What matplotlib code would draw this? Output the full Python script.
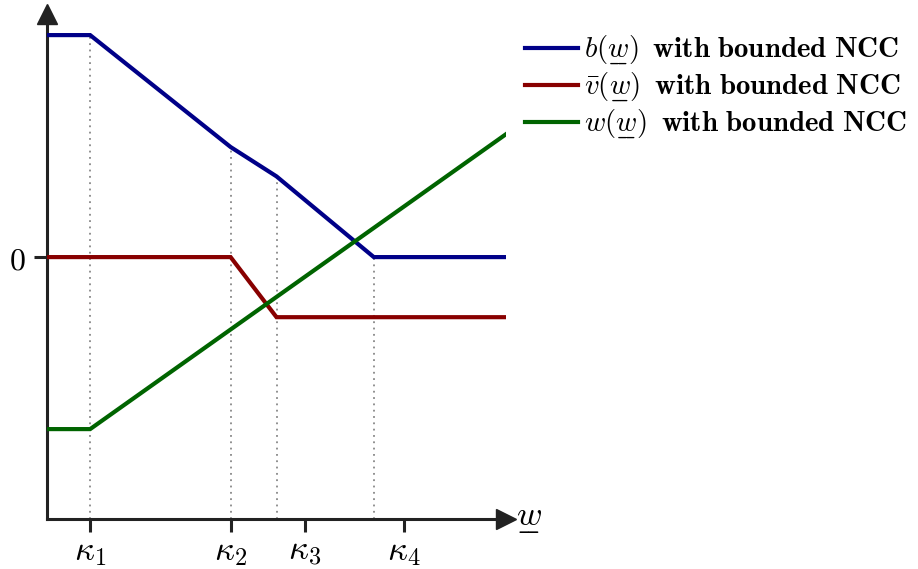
import matplotlib.pyplot as plt
from matplotlib.mathtext import MathTextParser

plt.rcParams['mathtext.fontset'] = 'cm'
plt.rcParams['font.family'] = 'serif'
plt.rcParams['font.serif'] = ['DejaVu Serif']

# kink points on the w axis (x) and values of each curve there
x_pts = [0, 0.94, 4.0, 5.0, 7.12, 10]
b_vals = [4.84, 4.84, 2.40, 1.76, 0.0, 0.0]
v_vals = [0.0, 0.0, 0.0, -1.31, -1.31, -1.31]
w_x = [0, 0.94, 10]
w_y = [-3.75, -3.75, 2.68]

kappa_ticks = [0.94, 4.0, 5.62, 7.78]
kappa_labels = [r'$\kappa_1$', r'$\kappa_2$', r'$\kappa_3$', r'$\kappa_4$']

# dotted guides: (x, top of the guide)
guides = [(0.94, 4.84), (4.0, 2.40), (5.0, 1.76), (7.12, 0.0)]

# underline support in mathtext?
try:
    MathTextParser('path').parse(r'$\underline{w}$')
    UW = r'\underline{w}'
except Exception:
    UW = r'\underset{\_\!\_}{w}'

fig = plt.figure(figsize=(9.18, 5.69), dpi=100)
ax = fig.add_axes([47/918, 50/569, 459/918, 505/569])
ymin, ymax = -5.71, 5.30
ax.set_xlim(0, 10)
ax.set_ylim(ymin, ymax)

for gx, gy in guides:
    ax.plot([gx, gx], [ymin, gy], color='#888888', ls=(0, (1, 2.5)), lw=1.3, zorder=1)

lw = 3.0
ax.plot(x_pts, b_vals, color='#000088', lw=lw, solid_joinstyle='miter',
        label=r'$b(%s)\,$ $\mathbf{with\ bounded\ NCC}$' % UW, zorder=3)
ax.plot(x_pts, v_vals, color='#880000', lw=lw, solid_joinstyle='miter',
        label=r'$\bar{v}(%s)\,$ $\mathbf{with\ bounded\ NCC}$' % UW, zorder=3)
ax.plot(w_x, w_y, color='#006400', lw=lw, solid_joinstyle='miter',
        label=r'$w(%s)\,$ $\mathbf{with\ bounded\ NCC}$' % UW, zorder=3)

for s in ['top', 'right']:
    ax.spines[s].set_visible(False)
for s in ['left', 'bottom']:
    ax.spines[s].set_linewidth(2.2)
    ax.spines[s].set_color('#222222')
ax.plot(1, 0, '>', color='#222222', ms=14, transform=ax.transAxes, clip_on=False)
ax.plot(0, 1, '^', color='#222222', ms=14, transform=ax.transAxes, clip_on=False)

ax.set_xticks(kappa_ticks)
ax.set_xticklabels(kappa_labels, fontsize=25)
ax.set_yticks([0])
ax.set_yticklabels([r'$0$'], fontsize=23)
ax.tick_params(axis='both', length=9.5, width=2.2, color='#222222', pad=6)
ax.tick_params(axis='x', pad=1)

ax.text(1.022, 0.0, r'$%s$' % UW, transform=ax.transAxes, fontsize=25,
        ha='left', va='center')

fig.legend(loc='upper left', bbox_to_anchor=(513/918, 1 - 22/569), frameon=False,
           fontsize=20.8, handlelength=1.85, handletextpad=0.2, labelspacing=0.11,
           borderaxespad=0)

fig.savefig('out.png', dpi=100)
